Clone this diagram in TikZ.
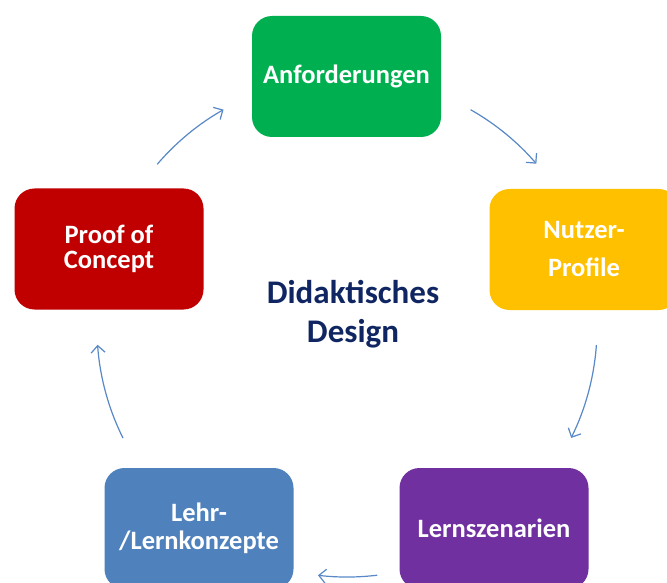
\documentclass[tikz,border=0pt]{standalone}
\usepackage{fontspec}
\setmainfont{Carlito}
\usetikzlibrary{arrows.meta}
\definecolor{cgreen}{RGB}{0,176,80}
\definecolor{cyellow}{RGB}{255,192,0}
\definecolor{cred}{RGB}{192,0,0}
\definecolor{cpurple}{RGB}{112,48,160}
\definecolor{cblue}{RGB}{79,129,189}
\definecolor{cnavy}{RGB}{16,38,98}
\definecolor{carrow}{RGB}{88,136,200}
\tikzset{
  box/.style={rectangle, rounded corners=20pt, minimum width=189pt, minimum height=121pt,
    inner sep=0pt, text=white, align=center, font=\bfseries\fontsize{26.5}{27}\selectfont},
  arr/.style={draw=carrow, line width=1.2pt, -{Straight Barb[length=7pt,width=14pt,line width=1.2pt]}},
  title/.style={text=cnavy, align=center, font=\bfseries\fontsize{33}{39}\selectfont}
}
\begin{document}
\begin{tikzpicture}[x=1pt,y=-1pt]
\useasboundingbox (0,0) rectangle (667,583);
\clip (0,0) rectangle (667,583);
\fill[white] (0,0) rectangle (667,583);
\node[box, fill=cgreen] (anf) at (346.5,76.5) {Anforderungen};
\node[box, fill=cyellow, font=\bfseries\fontsize{26.5}{38}\selectfont] (nut) at (584,249.5) {Nutzer-\\Profile};
\node[box, fill=cred, font=\bfseries\fontsize{26.5}{25.5}\selectfont] (poc) at (109,249) {Proof of\\Concept};
\node[box, fill=cpurple] (lsz) at (494,528.5) {Lernszenarien};
\node[box, fill=cblue, font=\bfseries\fontsize{26.5}{28}\selectfont] (lk) at (199,528.5) {Lehr-\\/Lernkonzepte};
\node[title] (dd) at (353,314) {Didaktisches\\Design};
\coordinate (a1) at (157.2,164.3);
\coordinate (a2) at (470.6,109.7);
\coordinate (a3) at (596.4,345.0);
\coordinate (a4) at (377.2,575.2);
\coordinate (a5) at (123.0,438.1);
\draw[arr] (a1) arc[start angle=-139.4, end angle=-119.6, radius=250];
\draw[arr] (a2) arc[start angle=-60.4, end angle=-40.8, radius=250];
\draw[arr] (a3) arc[start angle=4.1, end angle=26.3, radius=250];
\draw[arr] (a4) arc[start angle=83.1, end angle=96.7, radius=250];
\draw[arr] (a5) arc[start angle=153.6, end angle=175.9, radius=250];
\end{tikzpicture}
\end{document}
